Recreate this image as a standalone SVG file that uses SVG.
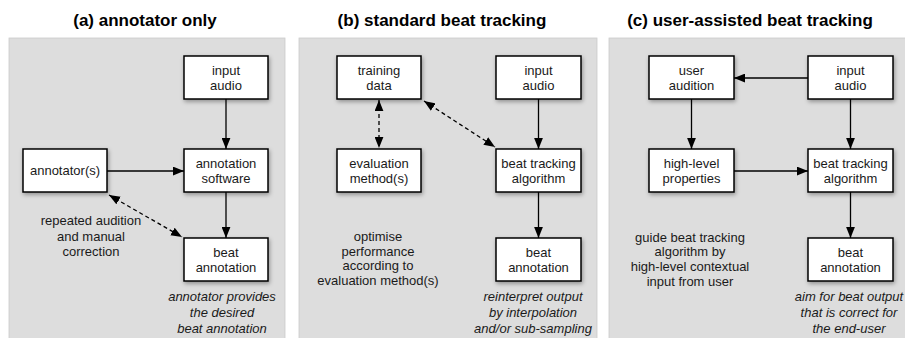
<svg xmlns="http://www.w3.org/2000/svg" width="905" height="338" viewBox="0 0 905 338">
<defs>
<style>
.panel{fill:#dddddd;stroke:#cbcbcb;stroke-width:0.8}
.box{fill:#ffffff;stroke:#000000;stroke-width:1.5;filter:url(#sh)}
.t{font-family:"Liberation Sans",Arial,sans-serif;font-size:13px;fill:#1a1a1a;text-anchor:middle}
.i{font-style:italic}
.title{font-family:"Liberation Sans",Arial,sans-serif;font-size:17px;font-weight:bold;fill:#000;text-anchor:middle}
.ln{stroke:#000;stroke-width:1.3;fill:none;marker-end:url(#ah)}
.dl{stroke:#000;stroke-width:1.3;fill:none;stroke-dasharray:4 3;marker-end:url(#ah);marker-start:url(#ah)}
</style>
<filter id="sh" x="-20%" y="-20%" width="150%" height="160%">
<feDropShadow dx="1" dy="2" stdDeviation="2" flood-color="#000" flood-opacity="0.35"/>
</filter>
<marker id="ah" markerUnits="userSpaceOnUse" markerWidth="11" markerHeight="9" refX="10" refY="4" orient="auto-start-reverse" viewBox="0 0 10 8">
<path d="M0,0 L10,4 L0,8 z" fill="#000"/>
</marker>
</defs>
<rect width="905" height="338" fill="#ffffff"/>
<rect class="panel" x="9" y="38" width="276" height="302"/>
<rect class="panel" x="299" y="38" width="298" height="302"/>
<rect class="panel" x="609" y="38" width="298" height="302"/>
<text class="title" x="145" y="26">(a) annotator only</text>
<text class="title" x="442" y="26">(b) standard beat tracking</text>
<text class="title" x="750" y="26">(c) user-assisted beat tracking</text>

<g id="connectors">
<line class="ln" x1="226" y1="99" x2="226" y2="149"/>
<line class="ln" x1="107" y1="171" x2="184" y2="171"/>
<line class="ln" x1="226" y1="192" x2="226" y2="238"/>
<line class="dl" x1="109" y1="195" x2="182" y2="237"/>
<line class="ln" x1="538.5" y1="99" x2="538.5" y2="149"/>
<line class="ln" x1="538.5" y1="192" x2="538.5" y2="238"/>
<line class="dl" x1="379" y1="100" x2="379" y2="148"/>
<line class="dl" x1="424" y1="101" x2="495" y2="147"/>
<line class="ln" x1="808" y1="78" x2="734" y2="78"/>
<line class="ln" x1="691.5" y1="99" x2="691.5" y2="149"/>
<line class="ln" x1="850.5" y1="99" x2="850.5" y2="149"/>
<line class="ln" x1="734" y1="171" x2="808" y2="171"/>
<line class="ln" x1="850.5" y1="192" x2="850.5" y2="238"/>
</g>

<g id="a-input-audio"><rect class="box" x="184" y="56" width="84" height="43"/><text class="t" x="226" y="75">input</text><text class="t" x="226" y="90">audio</text></g>
<g id="a-annotation-software"><rect class="box" x="184" y="149" width="84" height="43"/><text class="t" x="226" y="168">annotation</text><text class="t" x="226" y="183">software</text></g>
<g id="a-annotators"><rect class="box" x="23" y="149" width="84" height="43"/><text class="t" x="65" y="175">annotator(s)</text></g>
<g id="a-beat-annotation"><rect class="box" x="184" y="238" width="84" height="43"/><text class="t" x="226" y="257">beat</text><text class="t" x="226" y="272">annotation</text></g>
<g id="a-label"><text class="t" x="91" y="225">repeated audition</text><text class="t" x="91" y="240.5">and manual</text><text class="t" x="91" y="256">correction</text></g>
<g id="a-caption"><text class="t i" x="222" y="301">annotator provides</text><text class="t i" x="222" y="317">the desired</text><text class="t i" x="222" y="333">beat annotation</text></g>

<g id="b-training-data"><rect class="box" x="337" y="56" width="84" height="43"/><text class="t" x="379" y="75">training</text><text class="t" x="379" y="90">data</text></g>
<g id="b-input-audio"><rect class="box" x="496" y="56" width="85" height="43"/><text class="t" x="538.5" y="75">input</text><text class="t" x="538.5" y="90">audio</text></g>
<g id="b-evaluation"><rect class="box" x="337" y="149" width="84" height="43"/><text class="t" x="379" y="168">evaluation</text><text class="t" x="379" y="183">method(s)</text></g>
<g id="b-beat-tracking"><rect class="box" x="496" y="149" width="85" height="43"/><text class="t" x="538.5" y="168">beat tracking</text><text class="t" x="538.5" y="183">algorithm</text></g>
<g id="b-beat-annotation"><rect class="box" x="496" y="238" width="85" height="43"/><text class="t" x="538.5" y="257">beat</text><text class="t" x="538.5" y="272">annotation</text></g>
<g id="b-label"><text class="t" x="378" y="241">optimise</text><text class="t" x="378" y="255.5">performance</text><text class="t" x="378" y="270">according to</text><text class="t" x="378" y="284.5">evaluation method(s)</text></g>
<g id="b-caption"><text class="t i" x="533" y="301">reinterpret output</text><text class="t i" x="533" y="317">by interpolation</text><text class="t i" x="533" y="333">and/or sub-sampling</text></g>

<g id="c-user-audition"><rect class="box" x="649" y="56" width="85" height="43"/><text class="t" x="691.5" y="75">user</text><text class="t" x="691.5" y="90">audition</text></g>
<g id="c-input-audio"><rect class="box" x="808" y="56" width="85" height="43"/><text class="t" x="850.5" y="75">input</text><text class="t" x="850.5" y="90">audio</text></g>
<g id="c-high-level"><rect class="box" x="649" y="149" width="85" height="43"/><text class="t" x="691.5" y="168">high-level</text><text class="t" x="691.5" y="183">properties</text></g>
<g id="c-beat-tracking"><rect class="box" x="808" y="149" width="85" height="43"/><text class="t" x="850.5" y="168">beat tracking</text><text class="t" x="850.5" y="183">algorithm</text></g>
<g id="c-beat-annotation"><rect class="box" x="808" y="238" width="85" height="43"/><text class="t" x="850.5" y="257">beat</text><text class="t" x="850.5" y="272">annotation</text></g>
<g id="c-label"><text class="t" x="690" y="241.5">guide beat tracking</text><text class="t" x="690" y="256">algorithm by</text><text class="t" x="690" y="271">high-level contextual</text><text class="t" x="690" y="285.5">input from user</text></g>
<g id="c-caption"><text class="t i" x="849" y="301">aim for beat output</text><text class="t i" x="849" y="317">that is correct for</text><text class="t i" x="849" y="333">the end-user</text></g>
</svg>
